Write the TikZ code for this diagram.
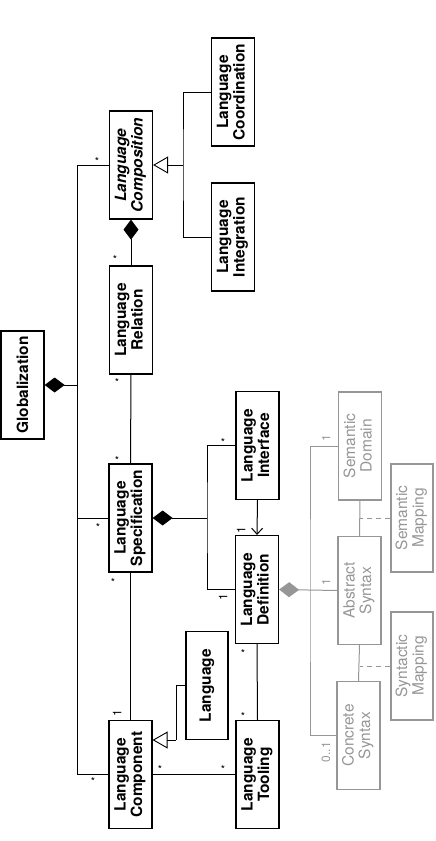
\documentclass[tikz,border=0pt]{standalone}
\usepackage{fontspec}
\setmainfont{TeX Gyre Heros}
\usetikzlibrary{arrows.meta,calc}
\definecolor{gcol}{RGB}{150,150,150}
\newcommand\rtxt[2]{\rotatebox{90}{\begin{tabular}{@{}c@{}}#1\\#2\end{tabular}}}
\tikzset{
  agg/.tip={Diamond[length=20pt,width=15pt]},
  gagg/.tip={Diamond[length=20pt,width=15pt,fill=gcol]},
  gen/.tip={Triangle[open,length=15pt,width=17pt,line width=0.9pt]},
  nav/.tip={Straight Barb[length=6pt,width=11pt]}
}
\begin{document}
\begin{tikzpicture}[x=1pt,y=-1pt,
  box/.style={draw, line width=1.2pt, minimum width=43pt, minimum height=108pt, inner sep=0pt, font=\fontsize{15.5}{16.5}\selectfont\bfseries},
  gbox/.style={box, draw=gcol, text=gcol, font=\fontsize{15.5}{16.5}\selectfont},
  conn/.style={line width=1pt},
  gconn/.style={line width=1pt, draw=gcol},
  lbl/.style={font=\fontsize{11}{11}\selectfont, inner sep=0pt},
  glbl/.style={lbl, text=gcol, font=\fontsize{12}{12}\selectfont}]
\useasboundingbox (0,0) rectangle (436,841);

% black boxes
\node[box] (glob) at (22.5,385) {\rotatebox{90}{Globalization}};
\node[box] (comp) at (131,165) {\itshape\rtxt{Language}{Composition}};
\node[box] (coord) at (233,92) {\rtxt{Language}{Coordination}};
\node[box] (integ) at (233,237) {\rtxt{Language}{Integration}};
\node[box] (rel) at (131,320) {\rtxt{Language}{Relation}};
\node[box] (spec) at (130.5,518) {\rtxt{Language}{Specification}};
\node[box] (iface) at (257.5,445.5) {\rtxt{Language}{Interface}};
\node[box] (def) at (257,589.5) {\rtxt{Language}{Definition}};
\node[box] (lcomp) at (130.5,774.5) {\rtxt{Language}{Component}};
\node[box, minimum width=42pt] (lang) at (207,685.5) {\rotatebox{90}{Language}};
\node[box] (tool) at (257.5,774.5) {\rtxt{Language}{Tooling}};

% gray boxes
\node[gbox] (semdom) at (360,446) {\rtxt{Semantic}{Domain}};
\node[gbox] (abs) at (359.5,590.5) {\rtxt{Abstract}{Syntax}};
\node[gbox] (conc) at (358.5,735.5) {\rtxt{Concrete}{Syntax}};
\node[gbox, minimum width=42pt] (semmap) at (412,518) {\rtxt{Semantic}{Mapping}};
\node[gbox, minimum width=42pt] (synmap) at (412,666) {\rtxt{Syntactic}{Mapping}};

% helper coordinates
\coordinate (bus) at (77.5,385);
\coordinate (cj) at (183,165);
\coordinate (sj) at (207,518);
\coordinate (gl) at (176,740);
\coordinate (gx) at (310,590);

% globalization bus
\draw[conn] (comp.west) -| (bus) |- (lcomp.west);
\draw[conn] (spec.west) -- (spec.west -| bus);
\draw[conn, agg-] (glob.east) -- (bus);

% composition
\draw[conn, -agg] (rel.north) -- (comp.south);
\draw[conn] (coord.west) -| (cj) |- (integ.west);
\draw[conn, -gen] (cj) -- (comp.east);

% specification
\draw[conn] (rel.south) -- (spec.north);
\draw[conn] (spec.south) -- (lcomp.north);
\draw[conn, agg-] (spec.east) -- (sj);
\draw[conn] (iface.west) -| (sj) |- (def.west);
\draw[conn, -nav] (iface.south) -- (def.north);
\draw[conn] (def.south) -- (tool.north);
\draw[conn] (lcomp.east) -- (tool.west);
\draw[conn] (lang.west) -| (gl);
\draw[conn, -gen] (gl) -- (lcomp.east |- gl);

% gray part
\draw[gconn, gagg-] (def.east) -- (abs.west);
\draw[gconn] (semdom.west) -| (gx) |- (conc.west);
\draw[gconn] (semdom.south) -- (abs.north);
\draw[gconn] (abs.south) -- (conc.north);
\draw[gconn, dash pattern=on 5pt off 4pt] (semmap.west) -- (semmap.west -| abs.south);
\draw[gconn, dash pattern=on 5pt off 4pt] (synmap.west) -- (synmap.west -| abs.south);

% multiplicities
\node[lbl] (m1) at (97,161) {*};
\node[lbl] (m2) at (115,259) {*};
\node[lbl] (m3) at (117,382) {*};
\node[lbl] (m4) at (117,460) {*};
\node[lbl] (m5) at (98,527) {*};
\node[lbl] (m6) at (113,582) {*};
\node[lbl, font=\fontsize{12}{12}\selectfont, rotate=90] (m7) at (117,713) {1};
\node[lbl] (m8) at (93,781) {*};
\node[lbl] (m9) at (160,769) {*};
\node[lbl] (m10) at (223,769) {*};
\node[lbl] (m11) at (243,653) {*};
\node[lbl] (m12) at (243,716) {*};
\node[lbl] (m13) at (223,442) {*};
\node[lbl, font=\fontsize{12}{12}\selectfont, rotate=90] (m14) at (223,597) {1};
\node[lbl, font=\fontsize{12}{12}\selectfont, rotate=90] (m15) at (241,530) {1};
\node[glbl, rotate=90] (g1) at (326,438) {1};
\node[glbl, rotate=90] (g2) at (326,582) {1};
\node[glbl, rotate=90] (g3) at (326,752) {0..1};
\end{tikzpicture}
\end{document}
